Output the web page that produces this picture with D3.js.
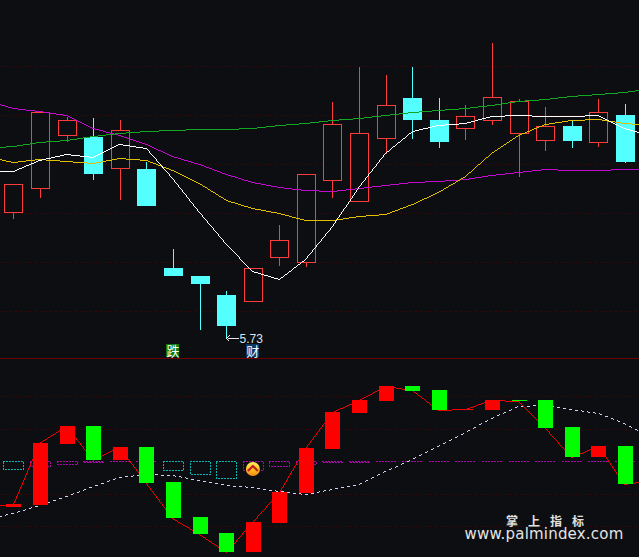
<!DOCTYPE html>
<html><head><meta charset="utf-8">
<script src="https://cdn.jsdelivr.net/npm/d3@7/dist/d3.min.js"></script>
<style>html,body{margin:0;padding:0;background:#0d0e11;overflow:hidden}svg{display:block}</style>
</head><body><svg id="c" width="639" height="557"></svg>
<script>
const open  = [8.24,8.72,9.78,9.75,9.12,9.11,7.13,6.97,6.59,6.46,7.34,7.24,8.88,8.46,9.72,10.53,10.09,9.92,10.08,9.82,9.68,9.97,9.64,10.19];
const close = [8.80,10.24,10.08,9.01,9.88,8.37,6.97,6.81,5.97,7.12,7.68,9.00,10.00,9.82,10.38,10.09,9.65,10.16,10.54,10.46,9.96,9.67,10.24,9.25];
const high  = [8.80,10.24,10.15,10.14,10.09,9.25,7.51,6.97,6.67,7.12,7.99,9.00,10.45,11.15,10.99,11.15,10.53,10.39,11.63,10.51,10.35,10.09,10.51,10.41];
const low   = [8.11,8.54,9.66,8.89,8.49,8.37,6.97,5.89,5.73,6.46,7.17,7.15,8.54,8.46,9.41,9.71,9.53,9.69,9.99,8.95,9.47,9.53,9.55,9.23];
const maWhite  = [9.06,9.06,9.29,9.40,9.34,9.60,9.52,8.93,8.23,7.60,7.06,6.90,7.30,7.96,8.76,9.42,9.86,9.98,10.02,10.16,10.18,10.16,10.16,10.18,9.92,9.84];
const maYellow = [9.30,9.24,9.30,9.26,9.22,9.32,9.28,9.09,8.81,8.49,8.31,8.21,8.08,8.08,8.16,8.20,8.39,8.64,8.96,9.42,9.79,10.00,10.08,10.10,10.03,10.00];
const maPurple = [10.40,10.32,10.26,10.17,9.92,9.78,9.59,9.36,9.20,8.99,8.84,8.74,8.69,8.67,8.72,8.79,8.84,8.87,8.91,8.98,9.04,9.10,9.08,9.08,9.10,9.10];
const maGreen  = [9.54,9.56,9.64,9.69,9.76,9.82,9.86,9.88,9.90,9.90,9.93,9.97,10.02,10.09,10.12,10.18,10.24,10.28,10.32,10.38,10.46,10.50,10.56,10.61,10.64,10.68];
const priceGrid = [11.17,10.19,9.21,8.23,7.25,6.27];
const lowValue = 5.73;

const barOpen  = [-13.8,-13.2,5.1,10.5,0.3,4.2,-6.3,-16.8,-21.6,-27.3,-18.6,-9.7,3.6,14.4,18,22.5,21.3,15.3,15.3,18.3,18.3,10.2,1.2,4.5];
const barClose = [-12.9,5.4,10.5,0.3,4.2,-6.6,-17.1,-21.9,-27.3,-18.3,-9.3,3.9,14.7,18.3,22.5,21,15.3,15.6,18.3,18,9.9,1.2,4.5,-6.9];
const barLineEnds = [-13.3,-6.5];
const signal = [-16.7,-15.7,-13.2,-10.5,-7.7,-5,-3.9,-4.4,-5.9,-7.4,-8,-9.2,-10.1,-8.4,-7.1,-3.2,0.6,4.3,8.5,12.8,16.3,16.8,15.5,14.3,11.3,9.3];
const boxDepth = [-2.3,-1.4,-0.8,-0.4,0,0,-2.6,-3.8,-5,-2.6,-1.4,-0.8,-0.4,-0.4,0,0,0,0,0,0,0,0,0,0];
const boxCyan  = [1,0,0,0,0,0,1,1,1,0,0,0,0,0,0,0,0,0,0,0,0,0,0,0];
const lowerGrid = [19.4,9.5,-10,-19.6];
const tagLabels = [{i:6,text:"跌",bg:"#0a7a0a"},{i:9,text:"财",bg:"#0c3a68"}];
const iconIndex = 9;

const W=639,H=557;
const svg=d3.select("#c");
const x=d3.scaleLinear().domain([0,23]).range([13.37,624.94]);
const y=d3.scaleLinear().domain([12.49,1.35]).range([0,557]);
const v=d3.scaleLinear().domain([0,-30]).range([461,561]);
const lineIdx=d3.range(-1,25).map(i=>i<0?-0.507:(i>23?23.5:i));
const snap=p=>Math.round(p)+0.5;
const crisp=s=>s.attr("shape-rendering","crispEdges");

// one-pixel aliased polyline, optionally with an on/off pixel pattern
function pixelPath(pts,on=1,off=0){
  let d="",n=0,last=null;
  const plot=(a,b)=>{
    if(last&&last[0]===a&&last[1]===b)return;
    last=[a,b];
    if(n%(on+off)<on)d+=`M${a},${b}h1v1h-1z`;
    n++;
  };
  for(let k=1;k<pts.length;k++){
    let x0=Math.floor(pts[k-1][0]),y0=Math.floor(pts[k-1][1]);
    const x1=Math.floor(pts[k][0]),y1=Math.floor(pts[k][1]);
    const dx=Math.abs(x1-x0),dy=-Math.abs(y1-y0),sx=x0<x1?1:-1,sy=y0<y1?1:-1;
    let err=dx+dy;
    for(;;){
      plot(x0,y0);
      if(x0===x1&&y0===y1)break;
      const e2=2*err;
      if(e2>=dy){err+=dy;x0+=sx;}
      if(e2<=dx){err+=dx;y0+=sy;}
    }
  }
  return d;
}
const drawPixels=(pts,color,on,off)=>crisp(svg.append("path").attr("d",pixelPath(pts,on,off)).attr("fill",color));
const seriesPts=(a,sc)=>a.map((d,i)=>[x(lineIdx[i]),sc(d)]);

svg.append("rect").attr("width",W).attr("height",H).attr("fill","#0d0e11");
const grid=(vals,sc)=>crisp(svg.append("g").selectAll("line").data(vals).join("line")
  .attr("x1",0).attr("x2",W).attr("y1",d=>snap(sc(d))).attr("y2",d=>snap(sc(d)))
  .attr("stroke","#3f0505").attr("stroke-dasharray","2,3"));
grid(priceGrid,y); grid(lowerGrid,v);
crisp(svg.append("line").attr("x1",0).attr("x2",W).attr("y1",358.5).attr("y2",358.5).attr("stroke","#6a0000"));

const up=i=>close[i]>=open[i];
const candles=crisp(svg.append("g").selectAll("g").data(d3.range(open.length)).join("g"));
candles.append("line").attr("x1",i=>snap(x(i))).attr("x2",i=>snap(x(i)))
  .attr("y1",i=>y(high[i])).attr("y2",i=>y(low[i]))
  .attr("stroke",i=>up(i)?"#ff3c3c":"#54ffff");
candles.append("rect")
  .attr("x",i=>up(i)?snap(x(i))-9:snap(x(i))-9.5)
  .attr("width",i=>up(i)?18:19)
  .attr("y",i=>up(i)?Math.floor(y(close[i]))+0.5:Math.round(y(open[i])))
  .attr("height",i=>up(i)?Math.round(y(open[i])-y(close[i])):Math.round(y(close[i])-y(open[i])))
  .attr("fill",i=>up(i)?"#0d0e11":"#54ffff")
  .attr("stroke",i=>up(i)?"#ff3c3c":"none");

[[maPurple,"#c40ad0"],[maGreen,"#11a822"],[maYellow,"#e0c000"],[maWhite,"#ffffff"]].forEach(([a,c])=>{
  drawPixels(seriesPts(a,y),c);
});

// low label
const lx=snap(x(8)),ly=snap(y(lowValue));
crisp(svg.append("line").attr("x1",lx+1).attr("x2",lx+12).attr("y1",ly).attr("y2",ly).attr("stroke","#e8e8e8"));
crisp(svg.append("path").attr("d",`M${lx+3},${ly-3}L${lx},${ly}L${lx+3},${ly+3}`).attr("fill","none").attr("stroke","#e8e8e8"));
svg.append("text").attr("x",lx+13).attr("y",ly+4.5).text(lowValue.toFixed(2))
  .attr("font-family","Liberation Sans, Arial").attr("font-size",12).attr("fill","#d9e4ee");

tagLabels.forEach(t=>{
  const cx=x(t.i);
  crisp(svg.append("rect").attr("x",Math.round(cx-6.5)).attr("y",344).attr("width",13).attr("height",13).attr("fill",t.bg));
  svg.append("text").attr("x",cx).attr("y",355.5).attr("text-anchor","middle").text(t.text)
   .attr("font-family","Liberation Sans, Noto Sans CJK SC").attr("font-size",13).attr("fill","#fff");
});

// lower pane
boxDepth.forEach((d,i)=>{
  const x0=Math.round(x(i))-10,x1=x0+20,y0=Math.floor(v(0)),y1=y0+Math.round(v(d)-v(0));
  const pts=y1===y0?[[x0,y0],[x1,y0]]:[[x0,y0],[x1,y0],[x1,y1],[x0,y1],[x0,y0]];
  drawPixels(pts,boxCyan[i]?"#08b4b4":"#a808a8",2,1);
});
drawPixels(seriesPts(signal,v),"#d0d0ff",3,3);
const barLine=[barLineEnds[0],...barClose,barLineEnds[1]];
drawPixels(seriesPts(barLine,v),"#ee0000");
crisp(svg.append("g").selectAll("rect").data(barOpen).join("rect")
  .attr("x",(d,i)=>Math.round(x(i))-7).attr("width",15)
  .attr("y",(d,i)=>Math.round(Math.min(v(d),v(barClose[i]))))
  .attr("height",(d,i)=>Math.max(1,Math.round(Math.abs(v(d)-v(barClose[i])))))
  .attr("fill",(d,i)=>barClose[i]>=d?"#ff0000":"#00ff00"));

// icon
const defs=svg.append("defs");
const g=defs.append("linearGradient").attr("id","ic").attr("x1",0).attr("x2",0).attr("y1",0).attr("y2",1);
g.append("stop").attr("offset","0").attr("stop-color","#fff060");
g.append("stop").attr("offset","0.55").attr("stop-color","#ffc020");
g.append("stop").attr("offset","1").attr("stop-color","#f08810");
const ix=x(iconIndex)+0.2, iy=v(-2.4);
svg.append("circle").attr("cx",ix).attr("cy",iy).attr("r",7).attr("fill","url(#ic)");
svg.append("path").attr("d",`M${ix-5},${iy+2}L${ix},${iy-3}L${ix+5},${iy+2}`).attr("fill","none").attr("stroke","#c02020").attr("stroke-width",2.2);

// watermark
svg.append("text").attr("x",546.7).attr("y",525.5).attr("text-anchor","middle").text("掌 上 指 标")
  .attr("font-family","Liberation Sans, Noto Sans CJK SC").attr("font-weight","bold").attr("font-size",12).attr("letter-spacing",3.35).attr("fill","#e0e0e0");
svg.append("text").attr("x",544).attr("y",539).attr("text-anchor","middle").text("www.palmindex.com")
  .attr("font-family","DejaVu Sans").attr("font-size",15).attr("letter-spacing",0.2).attr("fill","#e4e4e4");
</script></body></html>
